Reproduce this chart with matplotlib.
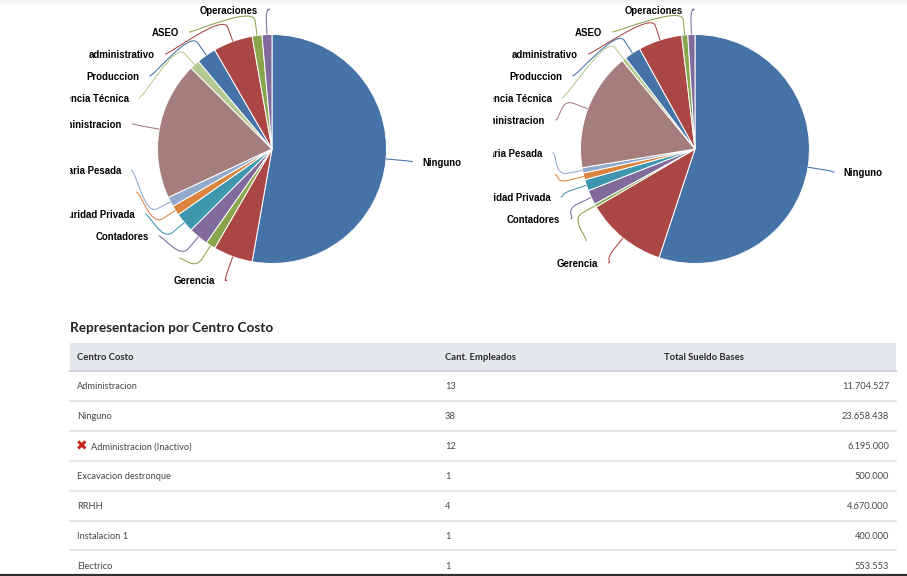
import matplotlib
matplotlib.use('Agg')
import matplotlib.pyplot as plt
import numpy as np
from matplotlib.path import Path
from matplotlib.patches import PathPatch, Rectangle

W, H = 907, 576

# datos de las tortas (izq: cantidad de empleados, der: total sueldos)
centros_torta = ['Ninguno', 'Gerencia', 'Electrico', 'Contadores', 'Seguridad Privada',
                 'Instalacion 1', 'Maquinaria Pesada', 'Administracion', 'Asistencia Técnica',
                 'Produccion', 'administrativo', 'ASEO', 'Operaciones']
empleados_torta = [38, 4, 1, 2, 2, 1, 1, 14, 1, 2, 4, 1, 1]
sueldos_torta = [23658438, 4930000, 190000, 890000, 680000, 410000, 330000,
                 7160000, 250000, 1000000, 2650000, 370000, 430000]
sin_etiqueta = ['Electrico', 'Instalacion 1']

# datos de la tabla
titulo_tabla = 'Representacion por Centro Costo'
encabezados = ['Centro Costo', 'Cant. Empleados', 'Total Sueldo Bases']
centros = ['Administracion', 'Ninguno', 'Administracion (Inactivo)', 'Excavacion destronque',
           'RRHH', 'Instalacion 1', 'Electrico']
empleados = [13, 38, 12, 1, 4, 1, 1]
sueldos = [11704527, 23658438, 6195000, 500000, 4670000, 400000, 553553]
inactivo = [False, False, True, False, False, False, False]

colores = ['#4572A7', '#AA4643', '#89A54E', '#80699B', '#3D96AE', '#DB843D',
           '#92A8CD', '#A47D7C', '#B5CA92']

R_PIE = 114.5
DIST = 30


def punto(cx, cy, rr, ang):
    a = np.radians(ang)
    return cx + rr * np.sin(a), cy - rr * np.cos(a)


def repartir(obj, gap, lo, hi):
    # agrupa etiquetas que se pisan y centra cada grupo en sus posiciones naturales
    grupos = [[i] for i in range(len(obj))]

    def inicio(g):
        s = np.mean([obj[i] - k * gap for k, i in enumerate(g)])
        return min(max(s, lo), hi - (len(g) - 1) * gap)

    cambio = True
    while cambio:
        cambio = False
        ini = [inicio(g) for g in grupos]
        for j in range(len(grupos) - 1):
            fin = ini[j] + (len(grupos[j]) - 1) * gap
            if ini[j + 1] - fin < gap:
                grupos[j] = grupos[j] + grupos.pop(j + 1)
                cambio = True
                break
    pos = {}
    for g in grupos:
        s = inicio(g)
        for k, i in enumerate(g):
            pos[i] = s + k * gap
    return [pos[i] for i in range(len(obj))]


fig = plt.figure(figsize=(W / 100, H / 100), dpi=100)

bg = fig.add_axes([0, 0, 1, 1])
bg.imshow(np.linspace(0.93, 1.0, 7)[:, None], cmap='gray', vmin=0, vmax=1,
          extent=(0, W, 7, 0), aspect='auto', interpolation='bilinear')
bg.set_xlim(0, W)
bg.set_ylim(H, 0)
bg.axis('off')


def torta(x0, x1, cx, cy, valores):
    ax = fig.add_axes([x0 / W, 1 - 300 / H, (x1 - x0) / W, 300 / H])
    cols = [colores[i % len(colores)] for i in range(len(valores))]
    ax.pie(valores, colors=cols, center=(cx, H - cy), radius=R_PIE, startangle=90,
           counterclock=False, frame=True,
           wedgeprops=dict(edgecolor='white', linewidth=0.7))
    ax.set_aspect('auto')
    ax.set_xlim(x0, x1)
    ax.set_ylim(H - 300, H)
    ax.axis('off')

    v = np.asarray(valores, dtype=float)
    medio = np.cumsum(v) / v.sum() * 360 - v / v.sum() * 180
    nat_y = [punto(cx, cy, R_PIE + DIST, m)[1] for m in medio]
    for izq in (False, True):
        idx = [i for i in range(len(v)) if (medio[i] > 180) == izq]
        idx.sort(key=lambda i: nat_y[i])
        ys = repartir([nat_y[i] for i in idx], 22, 10, 280)
        for k, (i, y) in enumerate(zip(idx, ys)):
            extremo = (k == 0 and y <= 10.01) or (k == len(idx) - 1 and y >= 279.99)
            dy = (nat_y[i] if extremo else y) - cy
            half = np.sqrt(max((R_PIE + DIST) ** 2 - dy ** 2, 0))
            if izq:
                x = cx - half
                p0, p1 = (x + 2, y), (x + 7, y)
                tx, ha = x - 8, 'right'
            else:
                x = cx + half
                p0, p1 = (x - 3, y), (x - 8, y)
                tx, ha = x + 6, 'left'
            p2 = punto(cx, cy, R_PIE + DIST, medio[i])
            p3 = punto(cx, cy, R_PIE + DIST / 2, medio[i])
            p4 = punto(cx, cy, R_PIE, medio[i])
            verts = [(px, H - py) for px, py in (p0, p1, p2, p3, p4)]
            codes = [Path.MOVETO, Path.CURVE4, Path.CURVE4, Path.CURVE4, Path.LINETO]
            ax.add_patch(PathPatch(Path(verts, codes), fill=False,
                                   edgecolor=cols[i], lw=0.75))
            if centros_torta[i] not in sin_etiqueta:
                ax.text(tx, H - y - 1, centros_torta[i], ha=ha, va='center',
                        fontsize=6.9, fontweight='bold', family='Liberation Sans',
                        color='#000000', clip_on=True)


torta(70, 480, 272, 149, empleados_torta)
torta(493, 907, 695, 149, sueldos_torta)

# tabla
tx0, tx1 = 70, 896
h_top, h_bot = 343, 371
fila = 29.9
col_x = [77, 445, 664]

bg.text(70, 327.5, titulo_tabla, ha='left', va='center', fontsize=9.8,
        fontweight='bold', family='Lato', color='#222222')
bg.add_patch(Rectangle((tx0, h_top), tx1 - tx0, h_bot - h_top,
                       facecolor='#e4e7ee', edgecolor='none'))
bg.plot([tx0, tx1], [h_bot, h_bot], color='#cdd0d6', lw=1.3)
for x, txt in zip(col_x, encabezados):
    bg.text(x, (h_top + h_bot) / 2, txt, ha='left', va='center', fontsize=6.8,
            fontweight='bold', family='Lato', color='#2a2a2a')

for i, (c, n, s, inac) in enumerate(zip(centros, empleados, sueldos, inactivo)):
    yc = h_bot + (i + 0.5) * fila + 1
    xt = col_x[0]
    if inac:
        bg.text(xt - 1, yc, '\u2716', ha='left', va='center', fontsize=10,
                family='DejaVu Sans', color='#c8231a')
        xt += 14
    bg.text(xt, yc, c, ha='left', va='center', fontsize=6.7, family='Lato', color='#474747')
    bg.text(col_x[1], yc, str(n), ha='left', va='center', fontsize=6.7,
            family='Lato', color='#474747')
    bg.text(889, yc, f'{s:,}'.replace(',', '.'), ha='right', va='center',
            fontsize=6.7, family='Lato', color='#474747')
    yl = h_bot + (i + 1) * fila
    if yl < H - 5:
        bg.plot([tx0, tx1], [yl, yl], color='#dddddd', lw=1.1)

bg.plot([0, W], [575, 575], color='#303030', lw=1.6)

fig.savefig('out.png', dpi=100)
